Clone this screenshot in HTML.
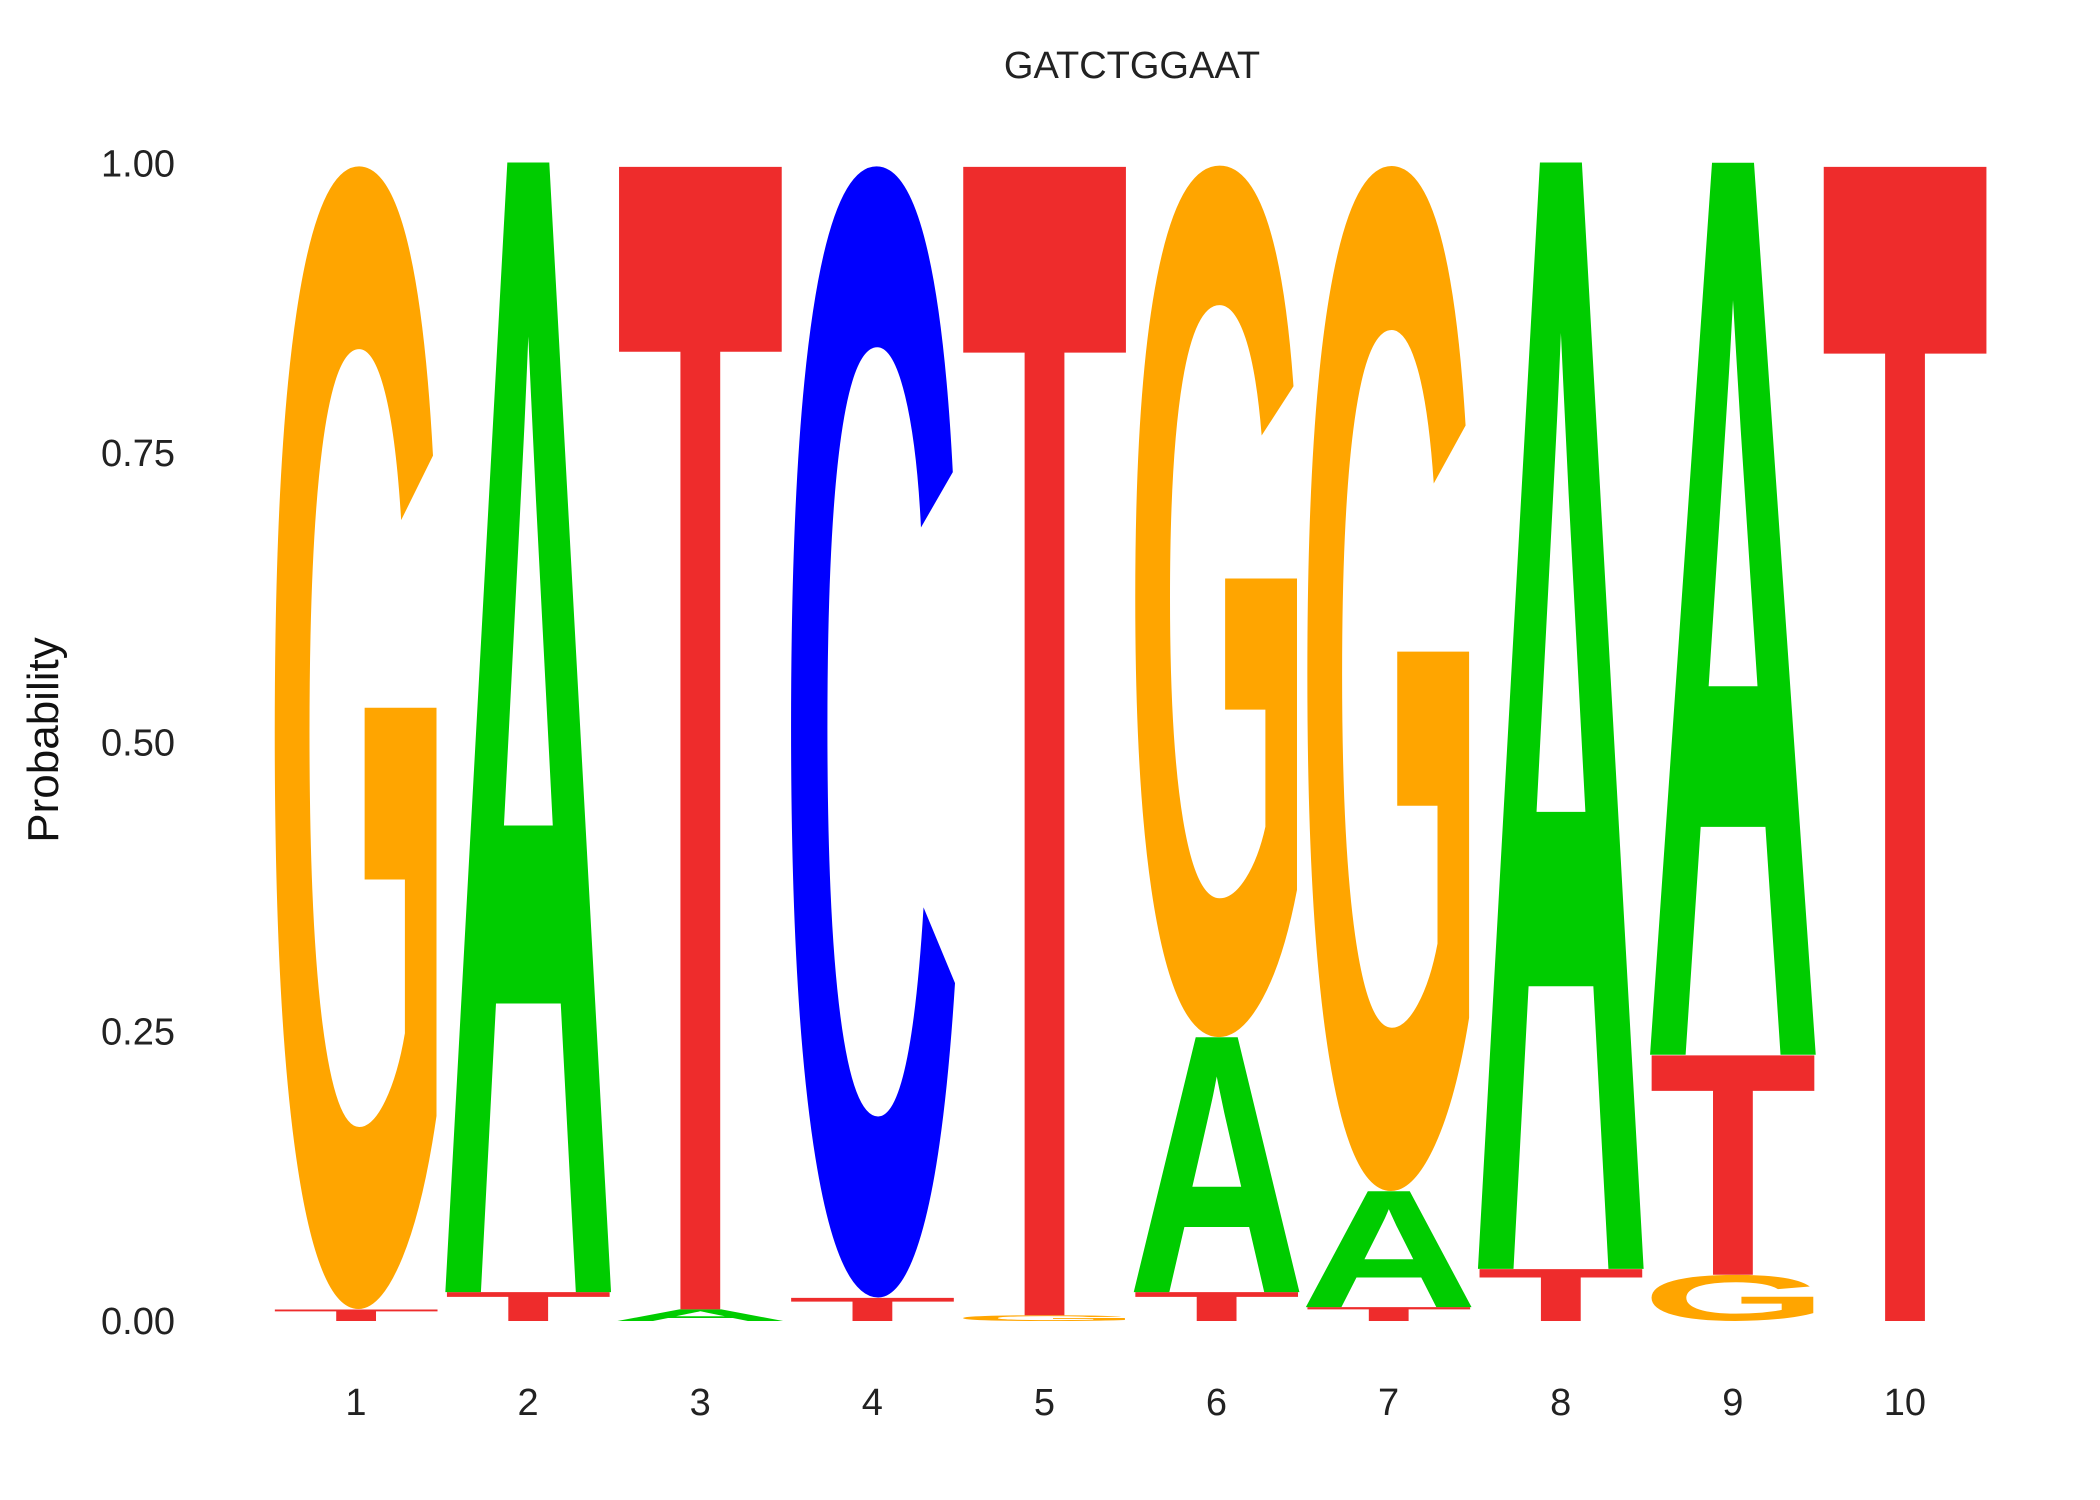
<!DOCTYPE html>
<html><head><meta charset="utf-8"><style>
html,body{margin:0;padding:0;background:#fff;overflow:hidden;width:2100px;height:1500px;}
svg{display:block;font-family:"Liberation Sans",sans-serif;overflow:hidden;}
</style></head><body>
<svg id="chart" width="2100" height="1500" viewBox="0 0 2100 1500">
<defs><clipPath id="clipAll"><rect x="0" y="0" width="2100" height="1500"/></clipPath></defs>
<text x="1132" y="78" font-size="38" text-anchor="middle" fill="#222">GATCTGGAAT</text>
<text transform="translate(58,740) rotate(-90)" font-size="44" text-anchor="middle" fill="#111">Probability</text>
<g id="yticks"></g>
<g id="xticks"></g>
<g id="letters" clip-path="url(#clipAll)"></g>
</svg>
<script>
const positions = [1,2,3,4,5,6,7,8,9,10];
const probA = [0.00,0.975,0.01,0.00,0.00,0.22,0.10,0.955,0.77,0.00];
const probC = [0.00,0.00,0.00,0.98,0.00,0.00,0.00,0.00,0.00,0.00];
const probG = [0.99,0.00,0.00,0.00,0.005,0.755,0.888,0.00,0.04,0.00];
const probT = [0.01,0.025,0.99,0.02,0.995,0.025,0.012,0.045,0.19,1.00];
const yTicks = [0,0.25,0.5,0.75,1.0];
const yTickLabels = ["0.00","0.25","0.50","0.75","1.00"];

const colors = {A:"#00cc00",C:"#0000ff",G:"#ffa500",T:"#ee2c2c"};
const NS="http://www.w3.org/2000/svg";
const y0=1321, y1=163.5;
function yScale(v){return y0-(y0-y1)*v;}
const x0=356, dx=172.1, colW=163;
function xScale(i){return x0+dx*i;}

const cnv=document.createElement('canvas');cnv.width=300;cnv.height=220;
const cv=cnv.getContext('2d');
const metrics={};
['A','C','G','T'].forEach(b=>{
  cv.clearRect(0,0,300,220);
  cv.font='bold 100px "Liberation Sans", sans-serif';
  cv.fillStyle='#000';cv.textBaseline='alphabetic';
  cv.fillText(b,50,150);
  const d=cv.getImageData(0,0,300,220).data;
  let minx=1e9,maxx=-1,miny=1e9,maxy=-1;
  for(let y=0;y<220;y++)for(let x=0;x<300;x++){
    if(d[(y*300+x)*4+3]>100){if(x<minx)minx=x;if(x>maxx)maxx=x;if(y<miny)miny=y;if(y>maxy)maxy=y;}
  }
  metrics[b]={l:minx-50,r:maxx+1-50,a:150-miny,d:maxy+1-150};
});
// empirical correction: A apex renders lower in SVG than measured
{const m=metrics.A;const gh=m.a+m.d;m.a-=0.018*gh;}

const yt=document.getElementById('yticks');
yTicks.forEach((v,i)=>{
  const t=document.createElementNS(NS,'text');
  t.setAttribute('x',175);t.setAttribute('y',yScale(v)+13);
  t.setAttribute('font-size','38');t.setAttribute('text-anchor','end');t.setAttribute('fill','#222');
  t.textContent=yTickLabels[i];
  
  
  yt.appendChild(t);
});
const xt=document.getElementById('xticks');
positions.forEach((p,i)=>{
  const t=document.createElementNS(NS,'text');
  t.setAttribute('x',xScale(i));t.setAttribute('y',1415);
  t.setAttribute('font-size','38');t.setAttribute('text-anchor','middle');t.setAttribute('fill','#222');
  t.textContent=p;
  
  
  xt.appendChild(t);
});
const lg=document.getElementById('letters');
positions.forEach((p,i)=>{
  const items=[['A',probA[i]],['C',probC[i]],['G',probG[i]],['T',probT[i]]].filter(d=>d[1]>0);
  items.sort((a,b)=>a[1]-b[1]);
  let cum=0;
  items.forEach(([b,v])=>{
    const yb=yScale(cum), ytop=yScale(cum+v);
    cum+=v;
    const h=yb-ytop; if(h<=0.5) return;
    const t=document.createElementNS(NS,'text');
    t.setAttribute('x',0);t.setAttribute('y',0);
    t.setAttribute('font-size','100');t.setAttribute('font-weight','bold');
    t.setAttribute('fill',colors[b]);
    t.textContent=b;
    
    
    lg.appendChild(t);
    const m=metrics[b];
    const w=m.r-m.l, gh=m.a+m.d;
    const sx=colW/w, sy=h/gh;
    t.setAttribute('transform',`translate(${xScale(i)-colW/2},${ytop}) scale(${sx},${sy}) translate(${-m.l},${m.a})`);
  });
});
</script>
</body></html>
